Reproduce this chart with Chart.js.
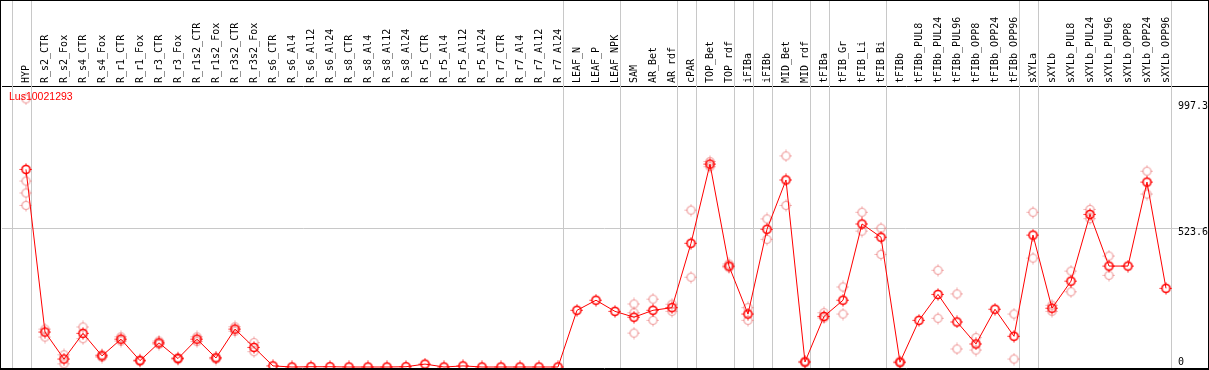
<!DOCTYPE html>
<html>
<head>
<meta charset="utf-8">
<script src="https://cdn.jsdelivr.net/npm/chart.js@4"></script>
<style>
  html, body { margin: 0; padding: 0; background: #fff; }
  #wrap { width: 1209px; height: 370px; }
</style>
</head>
<body>
<div id="wrap"><canvas id="chart"></canvas></div>
<script>
const geneName = 'Lus10021293';

const categories = [
  'HYP', 'R_s2_CTR', 'R_s2_Fox', 'R_s4_CTR', 'R_s4_Fox', 'R_r1_CTR', 'R_r1_Fox',
  'R_r3_CTR', 'R_r3_Fox', 'R_r1s2_CTR', 'R_r1s2_Fox', 'R_r3s2_CTR', 'R_r3s2_Fox',
  'R_s6_CTR', 'R_s6_Al4', 'R_s6_Al12', 'R_s6_Al24', 'R_s8_CTR', 'R_s8_Al4',
  'R_s8_Al12', 'R_s8_Al24', 'R_r5_CTR', 'R_r5_Al4', 'R_r5_Al12', 'R_r5_Al24',
  'R_r7_CTR', 'R_r7_Al4', 'R_r7_Al12', 'R_r7_Al24', 'LEAF_N', 'LEAF_P', 'LEAF_NPK',
  'SAM', 'AR_Bet', 'AR_rdf', 'cPAR', 'TOP_Bet', 'TOP_rdf', 'iFIBa', 'iFIBb',
  'MID_Bet', 'MID_rdf', 'tFIBa', 'tFIB_Gr', 'tFIB_Li', 'tFIB_Bi', 'tFIBb',
  'tFIBb_PUL8', 'tFIBb_PUL24', 'tFIBb_PUL96', 'tFIBb_OPP8', 'tFIBb_OPP24', 'tFIBb_OPP96',
  'sXYLa', 'sXYLb', 'sXYLb_PUL8', 'sXYLb_PUL24', 'sXYLb_PUL96', 'sXYLb_OPP8',
  'sXYLb_OPP24', 'sXYLb_OPP96'
];

// mean expression per sample
const means = [
  746, 132, 30, 127, 42, 105, 24, 91, 32, 105, 34, 143, 74,
  4, 0, 1, 1, 0, 0, 0, 1, 11, 0, 4, 0, 0, 0, 0, 0,
  214, 252, 210, 188, 214, 224, 467, 766, 381, 200, 520, 706, 19,
  191, 252, 540, 490, 18, 176, 274, 170, 87, 218, 116,
  498, 222, 324, 576, 381, 381, 698, 297
];

// individual replicates per sample
const replicates = [
  [1012, 702, 657, 610], [143, 113], [46, 12], [151, 107], [46, 37], [114, 98], [27, 22],
  [98, 86], [36, 28], [114, 96], [37, 30], [152, 135], [92, 58],
  [], [], [], [], [], [], [], [], [], [], [], [], [], [], [], [],
  [], [], [], [238, 205, 128], [256, 176], [237, 210], [592, 339], [776, 756], [389, 375],
  [224, 176], [559, 482], [797, 610], [22, 16], [205, 185], [302, 200], [584, 513],
  [524, 425], [22, 15], [], [365, 184], [276, 68], [111, 64], [], [200, 30],
  [584, 411], [233, 210], [362, 284], [595, 560], [419, 346], [], [739, 653], []
];

// sample index after which a group separator is drawn
const groupBreaks = [-1, 0, 28, 31, 34, 35, 37, 38, 39, 41, 42, 45, 52, 53, 60];
const yTicks = [0, 523.6, 997.3];

function makeMarker(color, width) {
  const c = document.createElement('canvas');
  c.width = 13; c.height = 13;
  const g = c.getContext('2d');
  g.strokeStyle = color;
  g.lineWidth = width;
  g.beginPath();
  g.arc(6.5, 6.5, 4, 0, Math.PI * 2);
  g.stroke();
  g.lineWidth = 1;
  g.beginPath();
  g.moveTo(6.5, 0.5); g.lineTo(6.5, 2.5);
  g.moveTo(6.5, 10.5); g.lineTo(6.5, 12.5);
  g.moveTo(0.5, 6.5); g.lineTo(2.5, 6.5);
  g.moveTo(10.5, 6.5); g.lineTo(12.5, 6.5);
  g.stroke();
  return c;
}

const mainMarker = makeMarker('#ff0000', 1.6);
const repMarker = makeMarker('rgba(235,130,130,0.75)', 1.2);

const repPoints = [];
replicates.forEach((vals, i) => vals.forEach(v => repPoints.push({ x: i, y: v })));

function noPad(s) {
  s.paddingLeft = 0; s.paddingRight = 0; s.paddingTop = 0; s.paddingBottom = 0;
}

const framePlugin = {
  id: 'frame',
  beforeDraw(chart) {
    const ctx = chart.ctx;
    ctx.save();
    ctx.fillStyle = '#fff';
    ctx.fillRect(0, 0, chart.width, chart.height);
    ctx.restore();
  },
  beforeDatasetsDraw(chart) {
    const ctx = chart.ctx;
    const xs = chart.scales.x;
    ctx.save();
    ctx.strokeStyle = '#c8c8c8';
    ctx.lineWidth = 1;
    groupBreaks.forEach(b => {
      const px = Math.round(xs.getPixelForValue(b + 0.25)) + 0.5;
      ctx.beginPath();
      ctx.moveTo(px, 0);
      ctx.lineTo(px, chart.chartArea.bottom);
      ctx.stroke();
    });
    ctx.restore();
  },
  afterDraw(chart) {
    const ctx = chart.ctx;
    const ys = chart.scales.y;
    const area = chart.chartArea;
    ctx.save();
    // y labels on the right, inside the plot
    ctx.fillStyle = '#000';
    ctx.font = '10px "DejaVu Sans Mono"';
    ctx.textBaseline = 'middle';
    ctx.textAlign = 'left';
    yTicks.forEach(v => {
      const py = ys.getPixelForValue(v);
      const ty = Math.min(py + 4, area.bottom - 6);
      ctx.fillText(String(v), 1178, ty);
    });
    // gene name
    ctx.fillStyle = '#ff0000';
    ctx.font = '10.5px "Liberation Sans"';
    ctx.fillText(geneName, 9, 97);
    // outer frame
    ctx.strokeStyle = '#000';
    ctx.lineWidth = 1;
    ctx.strokeRect(0.5, 0.5, chart.width - 1, chart.height - 1);
    ctx.beginPath();
    ctx.moveTo(0, area.bottom + 0.5);
    ctx.lineTo(chart.width, area.bottom + 0.5);
    ctx.stroke();
    ctx.restore();
  }
};

new Chart(document.getElementById('chart'), {
  type: 'line',
  data: {
    datasets: [
      {
        type: 'line',
        data: means.map((v, i) => ({ x: i, y: v })),
        borderColor: '#ff0000',
        borderWidth: 1,
        tension: 0,
        pointStyle: mainMarker,
        pointRadius: 5,
        clip: false,
        order: 1
      },
      {
        type: 'scatter',
        data: repPoints,
        showLine: false,
        pointStyle: repMarker,
        pointRadius: 5,
        clip: false,
        order: 2
      }
    ]
  },
  options: {
    responsive: true,
    maintainAspectRatio: false,
    devicePixelRatio: 1,
    animation: false,
    events: [],
    layout: { autoPadding: false, padding: { left: 2, right: 2, top: 0, bottom: 2 } },
    plugins: { legend: { display: false }, tooltip: { enabled: false } },
    scales: {
      x: {
        type: 'linear',
        position: 'top',
        min: -1.263,
        max: 62.158,
        afterBuildTicks: s => { s.ticks = categories.map((c, i) => ({ value: i })); },
        afterFit: s => { s.height = 86; noPad(s); },
        grid: { display: false, drawTicks: false },
        border: { display: true, color: '#000', width: 1 },
        ticks: {
          autoSkip: false,
          minRotation: 90,
          maxRotation: 90,
          padding: 3,
          labelOffset: 12,
          color: '#000',
          font: { family: 'DejaVu Sans Mono', size: 10 },
          callback: v => categories[v] ?? ''
        }
      },
      y: {
        position: 'right',
        min: -3.8,
        max: 1060.8,
        afterBuildTicks: s => { s.ticks = yTicks.map(v => ({ value: v })); },
        afterFit: s => { s.width = 0; noPad(s); },
        ticks: { display: false },
        grid: {
          drawTicks: false,
          color: c => (c.tick && c.tick.value === 523.6) ? '#c8c8c8' : 'rgba(0,0,0,0)'
        },
        border: { display: false }
      }
    }
  },
  plugins: [framePlugin]
});
</script>
</body>
</html>
